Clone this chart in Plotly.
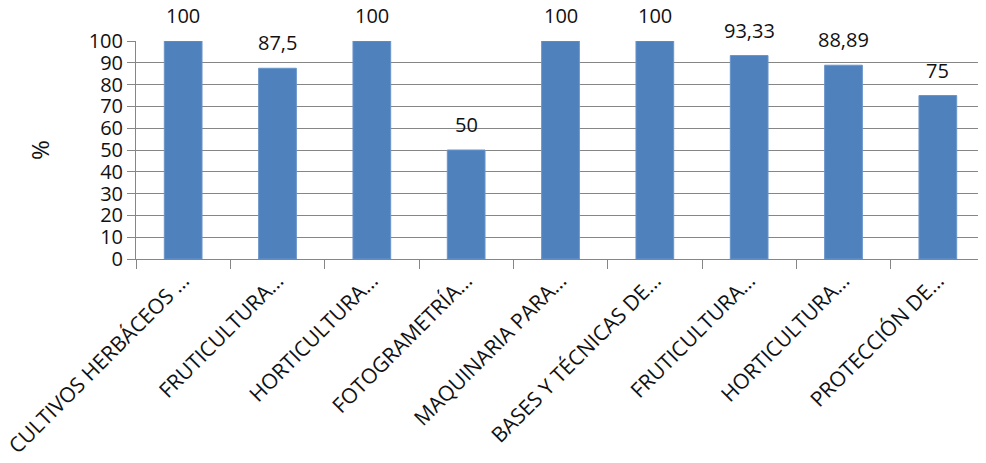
import plotly.graph_objects as go

# Porcentaje por asignatura (etiquetas truncadas tal como en el original)
asignaturas = [
    "CULTIVOS HERBÁCEOS …",
    "FRUTICULTURA…",
    "HORTICULTURA…",
    "FOTOGRAMETRÍA…",
    "MAQUINARIA PARA…",
    "BASES Y TÉCNICAS DE…",
    "FRUTICULTURA…\u200b",
    "HORTICULTURA…\u200b",
    "PROTECCIÓN DE…",
]
porcentajes = [100, 87.5, 100, 50, 100, 100, 93.33, 88.89, 75]
etiquetas = ["100", "87,5", "100", "50", "100", "100", "93,33", "88,89", "75"]

FUENTE = "'Open Sans', sans-serif"
AZUL = "#4F81BD"
GRIS = "#868686"
TEXTO = "#111111"

fig = go.Figure(
    go.Bar(
        x=asignaturas,
        y=porcentajes,
        marker={"color": AZUL, "line": {"color": "#6A95CB", "width": 1}},
        width=0.4,
        hoverinfo="skip",
    )
)

for asig, valor, texto in zip(asignaturas, porcentajes, etiquetas):
    fig.add_annotation(
        x=asig,
        y=valor,
        text=texto,
        showarrow=False,
        yanchor="bottom",
        yshift=10,
        font={"family": FUENTE, "size": 20, "color": TEXTO},
    )

# la pagina deja 8 px de margen en el body, de ahi 978x455
fig.update_layout(
    width=978,
    height=455,
    margin={"l": 128, "r": 1, "t": 33, "b": 204},
    paper_bgcolor="white",
    plot_bgcolor="white",
    showlegend=False,
    font={"family": FUENTE, "size": 20, "color": TEXTO},
)
fig.update_yaxes(
    range=[0, 100],
    dtick=10,
    showgrid=True,
    gridcolor=GRIS,
    gridwidth=1,
    showline=True,
    linecolor=GRIS,
    ticks="outside",
    ticklen=8,
    tickcolor=GRIS,
    zeroline=False,
    automargin=False,
    title={"text": "%", "standoff": 32},
)
fig.update_xaxes(
    type="category",
    tickson="boundaries",
    ticks="outside",
    ticklen=9,
    tickcolor=GRIS,
    tickfont={"size": 21},
    showline=True,
    linecolor=GRIS,
    showgrid=False,
    tickangle=-45,
    automargin=False,
)

fig.write_html("out.html")
